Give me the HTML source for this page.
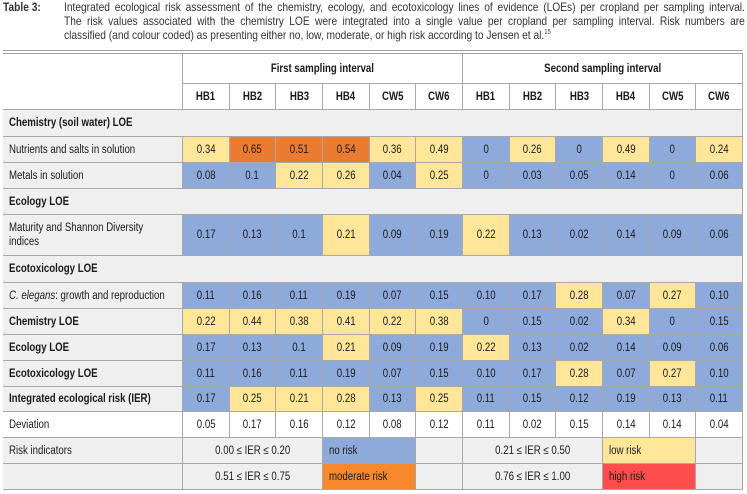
<!DOCTYPE html>
<html><head><meta charset="utf-8">
<style>
body{margin:0;width:747px;height:494px;background:#fff;position:relative;overflow:hidden;
font-family:"Liberation Sans",sans-serif;color:#1a1a1a;}
.cap{position:absolute;font-size:12px;line-height:14px;color:#333;transform:scaleX(0.85);transform-origin:0 0;white-space:nowrap;}
.cl{position:absolute;font-size:12px;line-height:14px;color:#333;width:801px;transform:scaleX(0.85);transform-origin:0 0;text-align:justify;text-align-last:justify;white-space:nowrap;}
.c{position:absolute;box-sizing:border-box;display:flex;align-items:center;justify-content:center;font-size:11.5px;
border-right:1px solid #a8a8a8;border-bottom:1px solid #a8a8a8;}
.c>span{display:inline-block;transform:scaleX(0.84);white-space:nowrap;}
.l{justify-content:flex-start;padding-left:6px;line-height:14px;}
.l>span{transform-origin:0 50%;}
.b{font-weight:bold;}
.hl{position:absolute;height:1px;background:#a0a0a0;}
</style></head><body>
<div class="cap" style="left:3px;top:0px;font-weight:bold">Table 3:</div>
<div>
<div class="cl" style="left:64px;top:0px">Integrated ecological risk assessment of the chemistry, ecology, and ecotoxicology lines of evidence (LOEs) per cropland per sampling interval.</div>
<div class="cl" style="left:64px;top:14px">The risk values associated with the chemistry LOE were integrated into a single value per cropland per sampling interval. Risk numbers are</div>
<div class="cap" style="left:64px;top:28px">classified (and colour coded) as presenting either no, low, moderate, or high risk according to Jensen et al.<sup style="font-size:7px;line-height:0">15</sup></div>
</div>
<div class="hl" style="left:3px;top:50px;width:740px"></div>
<div class="hl" style="left:3px;top:53px;width:740px"></div>
<div id="t"></div>
<script>
const cols=["HB1","HB2","HB3","HB4","CW5","CW6","HB1","HB2","HB3","HB4","CW5","CW6"];
const rowLabels=["Nutrients and salts in solution","Metals in solution","Maturity and Shannon Diversity<br>indices","<i>C. elegans</i>: growth and reproduction","Chemistry LOE","Ecology LOE","Ecotoxicology LOE","Integrated ecological risk (IER)","Deviation"];
const rowValues=[
["0.34","0.65","0.51","0.54","0.36","0.49","0","0.26","0","0.49","0","0.24"],
["0.08","0.1","0.22","0.26","0.04","0.25","0","0.03","0.05","0.14","0","0.06"],
["0.17","0.13","0.1","0.21","0.09","0.19","0.22","0.13","0.02","0.14","0.09","0.06"],
["0.11","0.16","0.11","0.19","0.07","0.15","0.10","0.17","0.28","0.07","0.27","0.10"],
["0.22","0.44","0.38","0.41","0.22","0.38","0","0.15","0.02","0.34","0","0.15"],
["0.17","0.13","0.1","0.21","0.09","0.19","0.22","0.13","0.02","0.14","0.09","0.06"],
["0.11","0.16","0.11","0.19","0.07","0.15","0.10","0.17","0.28","0.07","0.27","0.10"],
["0.17","0.25","0.21","0.28","0.13","0.25","0.11","0.15","0.12","0.19","0.13","0.11"],
["0.05","0.17","0.16","0.12","0.08","0.12","0.11","0.02","0.15","0.14","0.14","0.04"]];
const rowColors=[
"YOOOYY BYBYBY","BBYYBY BBBBBB","BBBYBB YBBBBB","BBBBBB BBYBYB","YYYYYY BBBYBB","BBBYBB YBBBBB","BBBBBB BBYBYB","BYYYBY BBBBBB","WWWWWW WWWWWW"];
const rowBold=[0,0,0,0,1,1,1,1,0];
const C={Y:"#ffe699",O:"#ea7b30",B:"#8eaadb",W:"#ffffff",G:"#efefef"};
const X0=3,X1=183,CW=46.67;
const t=document.getElementById('t');
function cell(x,y,w,h,html,bg,cls){const d=document.createElement('div');d.className='c '+(cls||'');
d.style.cssText=`left:${x}px;top:${y}px;width:${w}px;height:${h}px;background:${bg}`;
if(html)d.innerHTML='<span>'+html+'</span>';t.appendChild(d);return d;}
const ex=i=>X1+i*CW;
let d=cell(X0,54,X1-X0,56,"","#fff");


d=cell(X1,54,6*CW,30,"First sampling interval","#fff","b");


d=cell(ex(6),54,6*CW,30,"Second sampling interval","#fff","b");


cols.forEach((c,i)=>{const e=cell(ex(i),84,CW,26,c,"#fff","b");

});
function section(y,h,txt,name){const e=cell(X0,y,743-X0,h,txt,C.G,"l b");

}
const rowY=[[137,26],[163,26],[215,41],[283,26],[309,26],[335,26],[361,26],[387,25],[412,26]];
section(110,27,"Chemistry (soil water) LOE","chemistry-section");
section(189,26,"Ecology LOE","ecology-section");
section(256,27,"Ecotoxicology LOE","ecotoxicology-section");
rowLabels.forEach((lab,r)=>{const [y,h]=rowY[r];const last=r===8;
const e=cell(X0,y,X1-X0,h,lab,last?"#fff":C.G,"l"+(rowBold[r]?" b":""));


const cc=rowColors[r].replace(' ','');
rowValues[r].forEach((v,i)=>{const k=cell(ex(i),y,CW,h,v,C[cc[i]]);

});});
const riskRanges=["0.00 ≤ IER ≤ 0.20","0.21 ≤ IER ≤ 0.50","0.51 ≤ IER ≤ 0.75","0.76 ≤ IER ≤ 1.00"];
const riskNames=["no risk","low risk","moderate risk","high risk"];
const riskCols=["#8eaadb","#ffe699","#f7882e","#ff4d4d"];
[[438,26],[464,26]].forEach(([y,h],r)=>{
const e=cell(X0,y,X1-X0,h,r===0?"Risk indicators":"",C.G,"l");


for(let s=0;s<2;s++){const k=r*2+s;const b=s*6;
const a=cell(ex(b),y,3*CW,h,riskRanges[k],C.G);


const n=cell(ex(b+3),y,2*CW,h,riskNames[k],riskCols[k],"l");


const z=cell(ex(b+5),y,CW,h,"",C.G);

}});
</script>
</body></html>
